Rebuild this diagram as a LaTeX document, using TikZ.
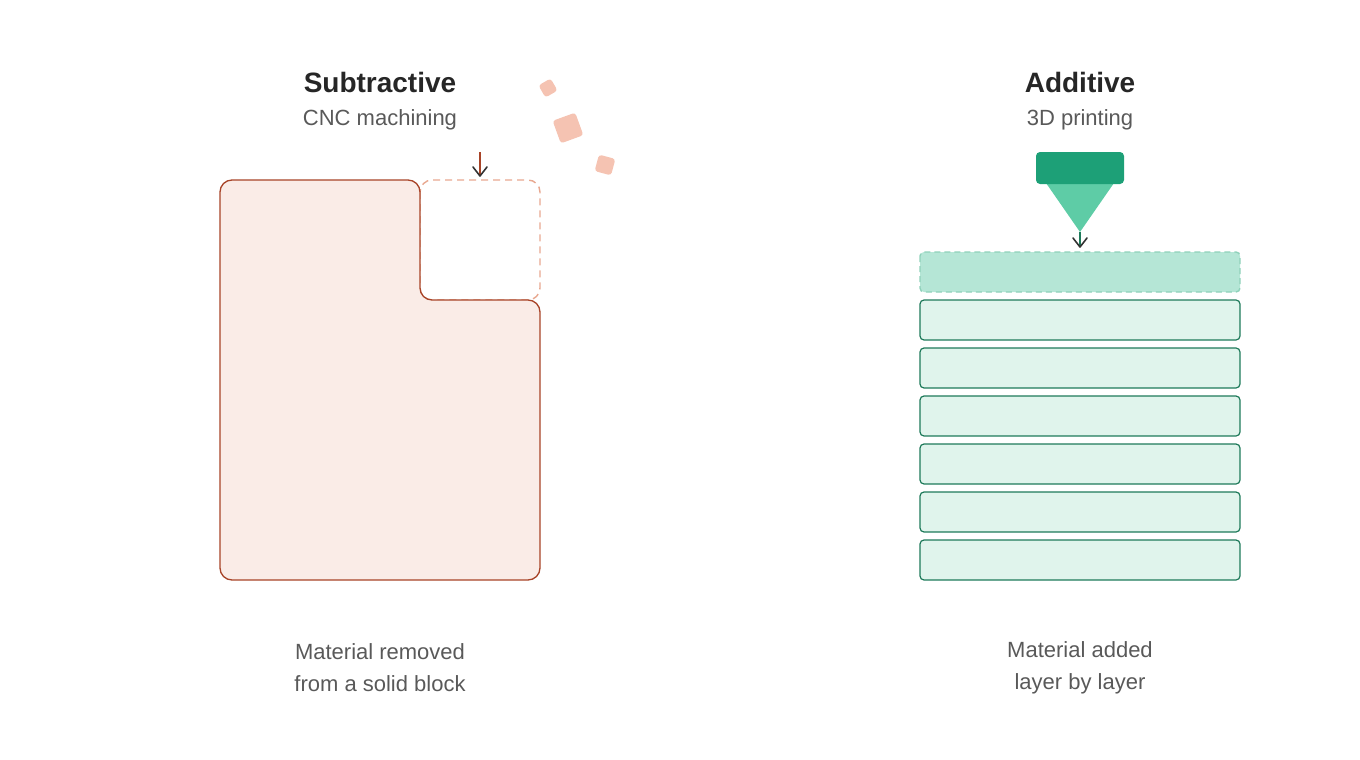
\documentclass[tikz,border=0pt]{standalone}
\usepackage{fontspec}
\setmainfont{Liberation Sans}
\begin{document}
\begin{tikzpicture}[x=1pt,y=-1pt,
  title/.style={font=\fontsize{28}{32}\selectfont\bfseries, text=black!85},
  sub/.style={font=\fontsize{22}{26}\selectfont, text=black!65},
  caption/.style={font=\fontsize{22}{32}\selectfont, text=black!65, align=center},
  layer/.style={draw=grn, fill=lgrn, line width=1.2pt, rounded corners=4pt},
  chip/.style={fill=chipc, rounded corners=3pt},
  tip/.style={draw=black!80, line width=1.6pt, line cap=round, line join=round}]
\definecolor{brn}{HTML}{A84428}
\definecolor{pch}{HTML}{FAECE7}
\definecolor{dsh}{HTML}{E8A890}
\definecolor{chipc}{HTML}{F5C3B2}
\definecolor{grn}{HTML}{1E7A5A}
\definecolor{lgrn}{HTML}{E0F4EC}
\definecolor{dgrn}{HTML}{1DA077}
\definecolor{mgrn}{HTML}{5ECCA6}
\definecolor{tgrn}{HTML}{B5E6D6}
\definecolor{tdsh}{HTML}{8FD1BA}
\useasboundingbox (0,0) rectangle (1360,760);
% left
\node[title] (t1) at (380,82) {Subtractive};
\node[sub] (s1) at (380,120) {CNC machining};
\draw[dsh, line width=1.4pt, dash pattern=on 7pt off 5pt, rounded corners=12pt] (420,180) rectangle (540,300);
\draw[brn, fill=pch, line width=1.3pt, rounded corners=12pt]
  (220,180) -- (420,180) -- (420,300) -- (540,300) -- (540,580) -- (220,580) -- cycle;
\draw[brn, line width=2pt] (480,152) -- (480,175);
\draw[tip] (473,167) -- (480,176) -- (487,167);
\node[chip, minimum size=14pt, inner sep=0, rotate=30] (c1) at (548,88) {};
\node[chip, minimum size=24pt, inner sep=0, rotate=20] (c2) at (568,128) {};
\node[chip, minimum size=17pt, inner sep=0, rotate=-15] (c3) at (605,165) {};
\node[caption] (b1) at (380,668) {Material removed\\from a solid block};
% right
\node[title] (t2) at (1080,82) {Additive};
\node[sub] (s2) at (1080,120) {3D printing};
\fill[mgrn] (1046,183) -- (1114,183) -- (1080,232) -- cycle;
\fill[dgrn, rounded corners=4pt] (1036,152) rectangle (1124,184);
\draw[grn, line width=2pt] (1080,232) -- (1080,247);
\draw[tip] (1073,238) -- (1080,247) -- (1087,238);
\draw[tdsh, fill=tgrn, line width=1.4pt, dash pattern=on 6pt off 4pt, rounded corners=4pt] (920,252) rectangle (1240,292);
\foreach \k in {0,...,5}{
  \draw[layer] (920,300+48*\k) rectangle (1240,340+48*\k);
}
\node[caption] (b2) at (1080,668) {Material added\\layer by layer};
\end{tikzpicture}
\end{document}
